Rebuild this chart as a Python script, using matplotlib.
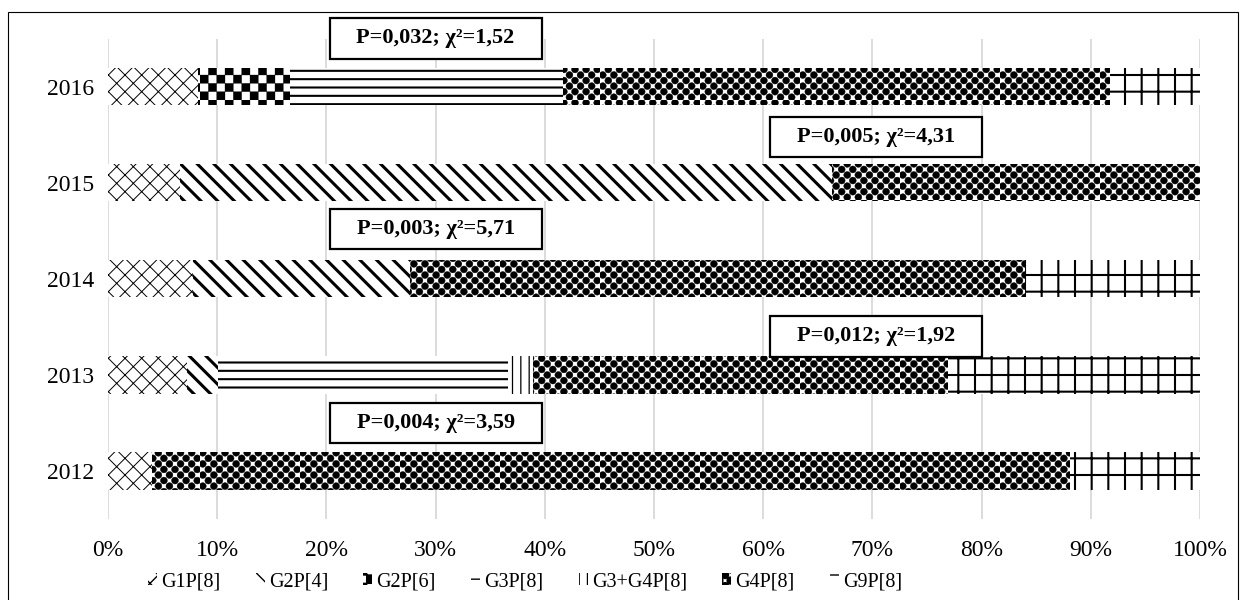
import warnings
import numpy as np
import matplotlib
matplotlib.use("Agg")
import matplotlib.pyplot as plt
import matplotlib.patches as mpatches
import matplotlib.hatch as mhatch
from matplotlib.path import Path

warnings.filterwarnings("ignore")

# ---------------- data ----------------
years = ['2012', '2013', '2014', '2015', '2016']
series_names = ['G1P[8]', 'G2P[4]', 'G2P[6]', 'G3P[8]', 'G3+G4P[8]', 'G4P[8]', 'G9P[8]']
g1p8 = [4.0, 7.2, 7.8, 6.6, 8.2]
g2p4 = [0.0, 2.9, 19.9, 59.7, 0.0]
g2p6 = [0.0, 0.0, 0.0, 0.0, 8.5]
g3p8 = [0.0, 26.5, 0.0, 0.0, 25.0]
g3g4p8 = [0.0, 2.3, 0.0, 0.0, 0.0]
g4p8 = [84.1, 38.0, 56.3, 33.7, 50.1]
g9p8 = [11.9, 23.1, 16.0, 0.0, 8.2]
x_ticks = [0, 10, 20, 30, 40, 50, 60, 70, 80, 90, 100]

annot_text = ['P=0,004; χ²=3,59', 'P=0,012; χ²=1,92', 'P=0,003; χ²=5,71',
              'P=0,005; χ²=4,31', 'P=0,032; χ²=1,52']
annot_x = [30.0, 70.3, 30.0, 70.3, 30.0]
annot_y = [0.50, 1.40, 2.52, 3.475, 4.50]


# ---------------- custom hatches ----------------
class CheckerHatch(mhatch.HatchPatternBase):
    """'c' -> coarse checkerboard, 'b' -> fine rounded blobs."""
    def __init__(self, hatch, density):
        self.cells = []
        self.kind = None
        if 'c' in hatch:
            self.n = 12
            self.kind = 'sq'
        elif 'b' in hatch:
            self.n = 18
            self.kind = 'circ'
        else:
            self.n = 0
        if self.n:
            self.cells = [(i, j) for i in range(self.n) for j in range(self.n)
                          if (i + j) % 2 == 0]
        circ = Path.unit_circle()
        self.cv, self.cc = circ.vertices, circ.codes
        per = 5 if self.kind == 'sq' else len(self.cv)
        self.num_vertices = len(self.cells) * per

    def set_vertices_and_codes(self, vertices, codes):
        s = 1.0 / self.n
        k = 0
        for (i, j) in self.cells:
            x0, y0 = i * s, j * s
            if self.kind == 'sq':
                vertices[k:k + 5] = [(x0, y0), (x0 + s, y0), (x0 + s, y0 + s),
                                     (x0, y0 + s), (x0, y0)]
                codes[k:k + 5] = [Path.MOVETO, Path.LINETO, Path.LINETO,
                                  Path.LINETO, Path.CLOSEPOLY]
                k += 5
            else:
                m = len(self.cv)
                vertices[k:k + m] = self.cv * (0.62 * s) + [x0 + s / 2, y0 + s / 2]
                codes[k:k + m] = self.cc
                k += m


mhatch._hatch_types.append(CheckerHatch)

styles = [
    dict(hatch='xx', lw=0.7),       # G1P[8]
    dict(hatch='\\\\', lw=2.2),     # G2P[4]
    dict(hatch='c', lw=0.2),        # G2P[6]
    dict(hatch='--', lw=1.5),       # G3P[8]
    dict(hatch='||', lw=0.9),       # G3+G4P[8]
    dict(hatch='b', lw=0.3),        # G4P[8]
    dict(hatch='+', lw=1.5),        # G9P[8]
]

series = [g1p8, g2p4, g2p6, g3p8, g3g4p8, g4p8, g9p8]

plt.rcParams['font.family'] = ['Liberation Serif', 'DejaVu Serif']
plt.rcParams['hatch.color'] = 'black'

fig = plt.figure(figsize=(12.43, 6), dpi=100)
ax = fig.add_axes([108 / 1243, 81 / 600, 1092 / 1243, 480.5 / 600])

ypos = np.arange(len(years))
left = np.zeros(len(years))
handles = []
for vals, name, st in zip(series, series_names, styles):
    with plt.rc_context({'hatch.linewidth': st['lw']}):
        bars = ax.barh(ypos, vals, left=left, height=0.39, color='white',
                       edgecolor='black', linewidth=0, hatch=st['hatch'], zorder=2)
        for b in bars:
            if hasattr(b, 'set_hatch_linewidth'):
                b.set_hatch_linewidth(st['lw'])
        h = mpatches.Patch(facecolor='white', edgecolor='black', linewidth=0,
                           hatch=st['hatch'], label=name)
        if hasattr(h, 'set_hatch_linewidth'):
            h.set_hatch_linewidth(st['lw'])
    handles.append(h)
    left = left + np.array(vals)

ax.set_xlim(0, 100)
ax.set_ylim(-0.5, len(years) - 0.5)
ax.set_xticks(x_ticks)
ax.set_xticklabels([f'{t}%' for t in x_ticks])
ax.set_yticks(ypos)
ax.set_yticklabels(years)
ax.tick_params(axis='both', length=0, labelsize=17, colors='black')
ax.tick_params(axis='x', pad=15)
ax.tick_params(axis='y', pad=10)
ax.grid(axis='x', color='#d9d9d9', linewidth=1.3, zorder=0)
ax.set_axisbelow(True)
for sp in ax.spines.values():
    sp.set_visible(False)

# annotation boxes
box_w = 19.4
box_h = 0.42
for txt, xc, yc in zip(annot_text, annot_x, annot_y):
    r = mpatches.Rectangle((xc - box_w / 2, yc - box_h / 2), box_w, box_h,
                           facecolor='white', edgecolor='black', linewidth=1.6,
                           zorder=5, clip_on=False)
    ax.add_patch(r)
    ax.text(xc, yc, txt, ha='center', va='center', fontsize=16,
            fontweight='bold', zorder=6, clip_on=False)

# legend
fig.legend(handles=handles, loc='center', bbox_to_anchor=(525 / 1243, 0.03),
           ncol=7, frameon=False, fontsize=14.5, handlelength=0.45,
           handleheight=0.55, handletextpad=0.2, columnspacing=1.75,
           borderpad=0, borderaxespad=0)

# outer chart border
fig.add_artist(mpatches.Rectangle((8 / 1243, -0.01), 1230 / 1243, 0.99,
                                  transform=fig.transFigure, facecolor='none',
                                  edgecolor='black', linewidth=0.8))

fig.savefig('out.png', dpi=100)
